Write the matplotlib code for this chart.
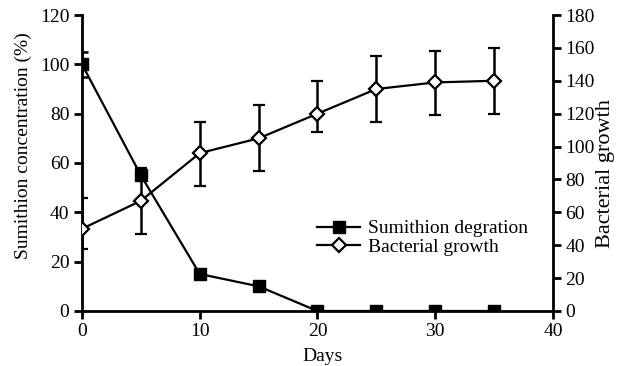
import matplotlib.pyplot as plt
from matplotlib.lines import Line2D

plt.rcParams["font.family"] = ["Liberation Serif", "DejaVu Serif"]

days = [0, 5, 10, 15, 20, 25, 30, 35]

# Sumithion concentration (%), left axis
sumithion = [100, 55, 15, 10, 0, 0, 0, 0]
sumithion_err = [5, 0, 0, 0, 0, 0, 0, 0]

# Bacterial growth, right axis (error bars are slightly asymmetric)
bacteria = [50, 67, 96, 105, 120, 135, 139, 140]
bacteria_err_low = [12, 20, 20, 20, 11, 20, 20, 20]
bacteria_err_high = [19, 20, 19, 20, 20, 20, 19, 20]

fig = plt.figure(figsize=(6.23, 3.66), dpi=100)
ax = fig.add_axes([0.1316, 0.1503, 0.7560, 0.8087])
ax2 = ax.twinx()

lw_axis = 2.0
diamond_style = dict(marker="D", markersize=7.5, markerfacecolor="white",
                     markeredgecolor="black", markeredgewidth=1.6)
square_style = dict(marker="s", markersize=8.5, markerfacecolor="black",
                    markeredgecolor="black")

ax2.errorbar(days, bacteria, yerr=[bacteria_err_low, bacteria_err_high],
             color="black", lw=1.6, capsize=4.5, capthick=1.8, elinewidth=1.8,
             zorder=3, **diamond_style)
ax.errorbar(days, sumithion, yerr=sumithion_err, color="black", lw=1.6,
            capsize=4.5, capthick=1.8, elinewidth=1.8, zorder=3, **square_style)

ax.set_xlim(0, 40)
ax.set_ylim(0, 120)
ax2.set_ylim(0, 180)
ax.set_xticks(range(0, 41, 10))
ax.set_yticks(range(0, 121, 20))
ax2.set_yticks(range(0, 181, 20))

for a in (ax, ax2):
    a.spines["top"].set_visible(False)
    for s in a.spines.values():
        s.set_linewidth(lw_axis)
    a.tick_params(width=lw_axis, length=6, labelsize=14, pad=3)
ax.spines["right"].set_visible(False)
ax2.spines["left"].set_visible(False)
ax2.spines["bottom"].set_visible(False)

ax.set_xlabel("Days", fontsize=14)
ax.xaxis.set_label_coords(0.51, -0.125)
ax.set_ylabel("Sumithion concentration (%)", fontsize=14)
ax.yaxis.set_label_coords(-0.106, 0.56)
ax2.set_ylabel("Bacterial growth", fontsize=16)
ax2.yaxis.set_label_coords(1.092, 0.463)

# legend proxies without error bars
handles = [Line2D([], [], color="black", lw=1.6, **square_style),
           Line2D([], [], color="black", lw=1.6, **diamond_style)]
labels = ["Sumithion degration", "Bacterial growth"]
ax2.legend(handles, labels, loc="center left", bbox_to_anchor=(0.5, 0.247),
           frameon=False, fontsize=14, handlelength=2.2, handletextpad=0.4,
           labelspacing=0.05, borderaxespad=0, borderpad=0)

fig.savefig("out.png", dpi=100)
